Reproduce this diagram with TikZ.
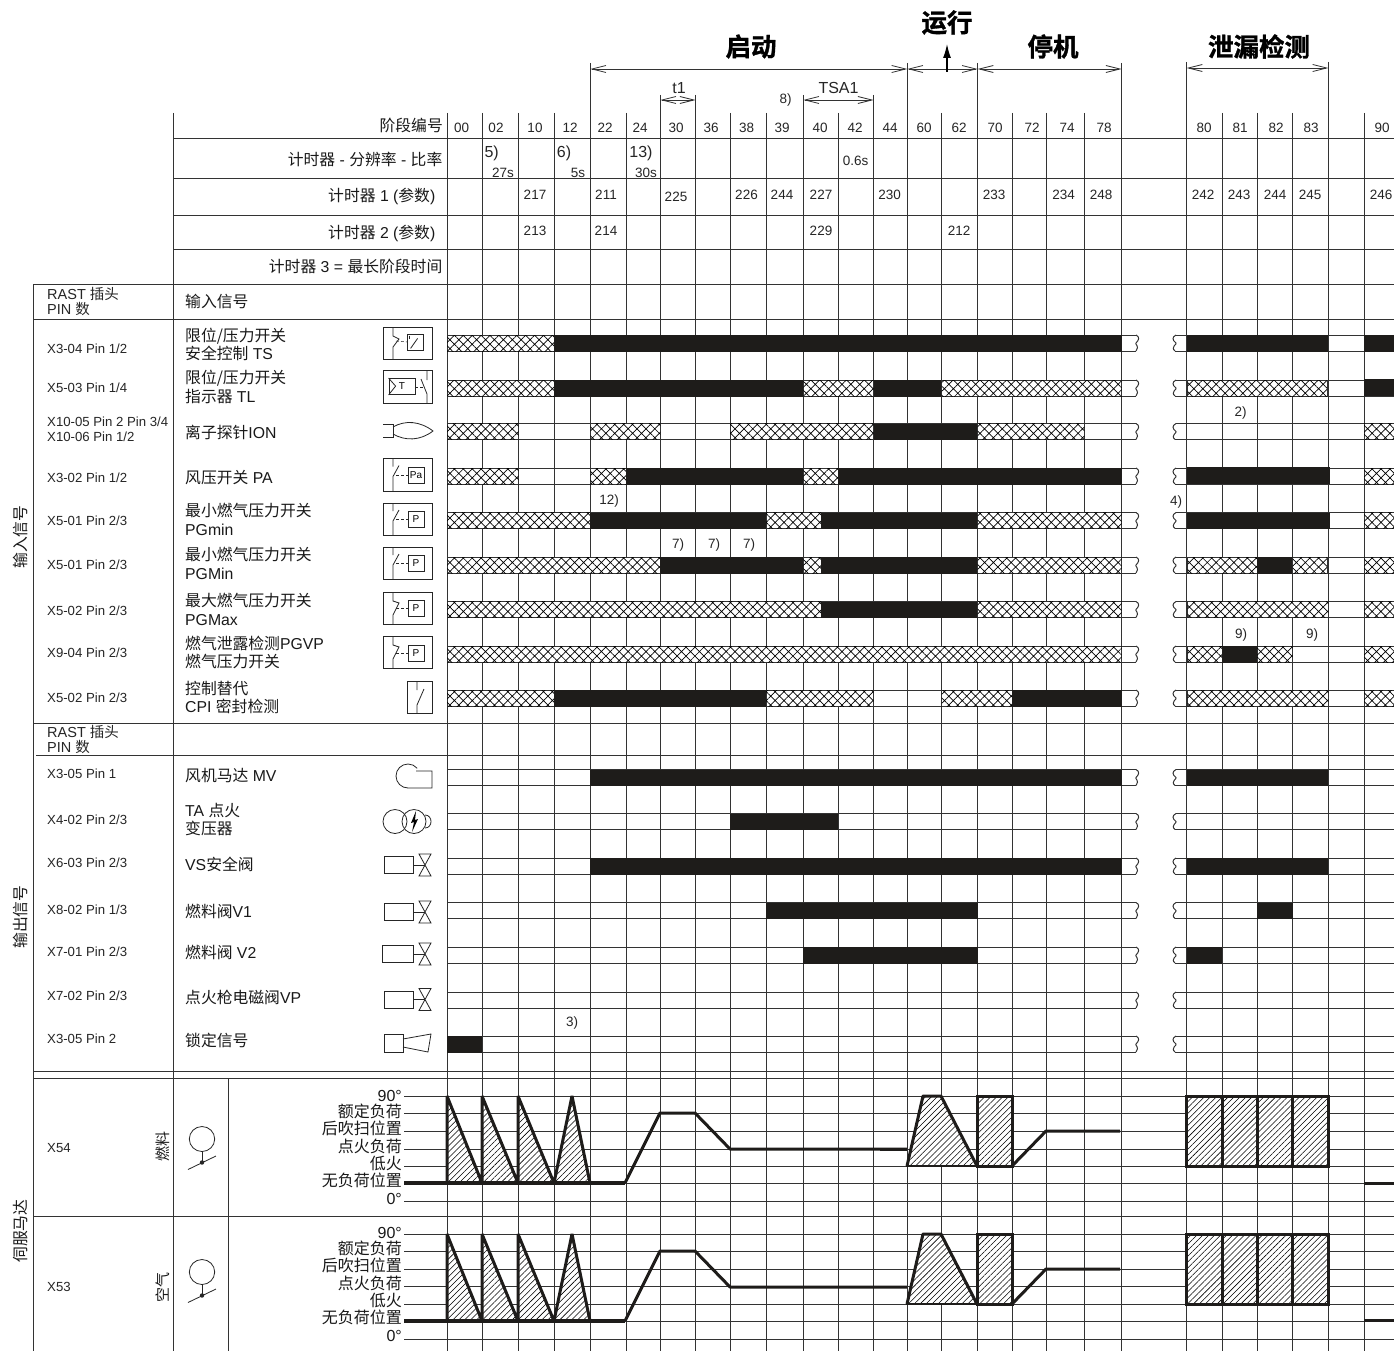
\documentclass[tikz,border=0pt]{standalone}
\usepackage{fontspec}
\setmainfont{Liberation Sans}
\newfontfamily\cjk{Noto Sans CJK SC}[BoldFont={Noto Sans CJK SC Bold},BoldFeatures={FakeBold=1.2}]
\usetikzlibrary{arrows.meta,patterns.meta}
\newcommand{\zh}[1]{{\cjk #1}}
\definecolor{gridc}{gray}{0.2}
\definecolor{barc}{HTML}{1E1C1A}
\tikzset{
  x=1pt,y=-1pt,
  gridline/.style={draw=gridc,line width=1pt},
  strongline/.style={draw=gridc,line width=1.3pt},
  num/.style={inner sep=0pt,font=\fontsize{13.5}{15}\selectfont,text=black!85,text height=11pt,text depth=0pt},
  note/.style={num},
  big/.style={num,font=\fontsize{16}{18}\selectfont,text height=11.5pt},
  xlab/.style={num,anchor=west,font=\fontsize{13.2}{15}\selectfont,text height=11pt},
  rast/.style={xlab,font=\fontsize{14.5}{16}\selectfont,text height=10.4pt},
  siglab/.style={inner sep=0pt,anchor=west,font=\fontsize{15.8}{17}\selectfont,text=black!90,text height=14pt,text depth=1.5pt},
  rlab/.style={siglab,anchor=east},
  srv/.style={rlab,font=\fontsize{16}{18}\selectfont},
  rot/.style={siglab,anchor=center,rotate=90,text height=12.4pt},
  head/.style={inner sep=0pt,font=\fontsize{25.5}{28}\selectfont\bfseries\cjk},
  dimarrow/.style={draw=gridc,line width=.9pt,{Straight Barb[length=14pt,width=7pt,line width=.8pt]}-{Straight Barb[length=14pt,width=7pt,line width=.8pt]}},
  sym/.style={draw=black!85,line width=.8pt},
  symbox/.style={draw=black!85,line width=.8pt,inner sep=0pt,minimum width=16pt,minimum height=16pt,font=\fontsize{10}{11}\selectfont},
  hatchbar/.style={fill=white,postaction={pattern={Hatch[angle=45,distance=6.3pt,line width=.7pt]},pattern color=black},draw=gridc,line width=.7pt},
  blackbar/.style={fill=barc,draw=none},
  thickp/.style={draw=barc,line width=3pt,line join=bevel},
  stripes/.style={fill=white,postaction={pattern={Lines[angle=45,distance=4.2pt,line width=.55pt]},pattern color=black}},
}
\newcommand{\HB}[3]{\path[hatchbar] (#2,#1) rectangle (#3,#1+16);}
\newcommand{\BB}[3]{\path[blackbar] (#2,#1) rectangle (#3,#1+16.5);}
\newcommand{\WaveR}[1]{\draw[gridline] (1136,#1) .. controls (1140,#1+2) and (1139,#1+5) .. (1136,#1+8) .. controls (1134.5,#1+9) and (1140,#1+11) .. (1136,#1+16);}
\newcommand{\WaveL}[1]{\draw[gridline] (1176,#1) .. controls (1172,#1+2) and (1172,#1+5) .. (1176,#1+8) .. controls (1177.5,#1+9) and (1170,#1+12) .. (1175,#1+16);}
\newcommand{\SymNO}[4]{%
  \draw[sym] (383,#2) rectangle (432,#2+32.5);
  \draw[sym] (393,#2) -- (393,#2+8) (393,#2+32.5) -- (393,#2+18) -- (399,#2+7);
  \draw[sym,line width=.5pt,densely dashed] (396,#3) -- (408,#3);
  \node[symbox] (#1) at (416,#3) {#4};}
\newcommand{\SymNC}[4]{%
  \draw[sym] (383,#2) rectangle (432,#2+32.5);
  \draw[sym] (393,#2) -- (393,#2+9) -- (399,#2+11) -- (393,#2+23) -- (393,#2+32.5);
  \draw[sym,line width=.5pt,densely dashed] (396,#3) -- (408,#3);
  \node[symbox] (#1) at (416,#3) {#4};}
\newcommand{\Valve}[2]{%
  \draw[sym] (#1,#2-8.5) rectangle (413,#2+8.5);
  \draw[sym] (413,#2) -- (425,#2);
  \draw[sym] (419,#2-11) -- (431,#2-11) -- (419,#2+11) -- (431,#2+11) -- cycle;}
\newcommand{\ServoSym}[1]{%
  \draw[sym] (202,#1) ellipse[x radius=12.7pt,y radius=12.5pt];
  \draw[sym] (202,#1+12.5) -- (202,#1+24);
  \fill[black!85] (202,#1+23.5) circle[radius=2.2pt];
  \draw[sym] (188,#1+30.5) -- (216,#1+17);}
\newcommand{\Servo}[1]{%
  \path[stripes] (447,#1) -- (482,#1+87) -- (447,#1+87) -- cycle;
  \path[stripes] (482,#1) -- (518,#1+87) -- (482,#1+87) -- cycle;
  \path[stripes] (518,#1) -- (554,#1+87) -- (518,#1+87) -- cycle;
  \path[stripes] (554,#1+87) -- (572,#1) -- (590,#1+87) -- cycle;
  \draw[thickp] (447,#1+87) -- (447,#1) -- (482,#1+87) -- (482,#1) -- (518,#1+87) -- (518,#1) -- (554,#1+87) -- (572,#1) -- (590,#1+87);
  \draw[thickp,line width=3.5pt] (404,#1+87) -- (625,#1+87);
  \draw[thickp,line join=round] (625,#1+87) -- (660,#1+17) -- (695,#1+17) -- (730,#1+53) -- (907,#1+53);
  \path[stripes] (907,#1+70) -- (923,#1) -- (941,#1) -- (977,#1+70) -- cycle;
  \draw[thickp] (907,#1+70) -- (923,#1) -- (941,#1) -- (977,#1+70);
  \draw[draw=barc,line width=1.5pt] (906,#1+70) -- (977,#1+70);
  \path[stripes] (977,#1) rectangle (1012,#1+70);
  \draw[thickp,line join=miter] (977,#1) rectangle (1012,#1+70);
  \draw[thickp] (1012,#1+70) -- (1046,#1+35) -- (1120,#1+35);
  \path[stripes] (1186,#1) rectangle (1328,#1+70);
  \draw[thickp,line join=miter] (1186,#1) rectangle (1328,#1+70) (1222,#1) -- (1222,#1+70) (1257,#1) -- (1257,#1+70) (1292,#1) -- (1292,#1+70);
}
\begin{document}
\begin{tikzpicture}
\useasboundingbox (0,0) rectangle (1394,1351);
\fill[white] (0,0) rectangle (1394,1351);

% ---------- horizontal rules of the table
\foreach \y in {139,178.5,215,249} \draw[gridline] (173,\y) -- (1394,\y);
\foreach \y in {284,319,723,1071} \draw[gridline] (33,\y) -- (1394,\y);
\draw[gridline] (36,755) -- (1394,755);
\draw[strongline] (33,1078.5) -- (1394,1078.5);
\draw[gridline] (33,1216.7) -- (1394,1216.7);

% ---------- signal rows
\foreach \t in {335,380,423.5,468,512.5,557,601.5,646,690,769.5,813.5,858,902.5,947,992,1036}{
  \draw[gridline] (447,\t) -- (1136,\t) (447,\t+16) -- (1136,\t+16);
  \draw[gridline] (1176,\t) -- (1394,\t) (1175,\t+16) -- (1394,\t+16);
  \WaveR{\t}
  \WaveL{\t}
}
% ---------- servo level lines
\foreach \y in {1096,1113.3,1131.3,1149,1166.5,1183,1201.3,1234.2,1251.7,1269,1286.7,1304,1321,1339.3}
  \draw[gridline] (404,\y) -- (1394,\y);

% ---------- vertical rules
\draw[gridline] (33,284) -- (33,1351);
\draw[gridline] (173,113) -- (173,1351);
\draw[gridline] (228,1078.5) -- (228,1351);
\foreach \x in {447,482,518.5,554,626,730,766,838,941.5,1012,1046.3,1084.3,1222,1257,1292.5,1364}
  \draw[gridline] (\x,113) -- (\x,1351);
\foreach \x in {660.3,695.5,803.3,873.5} \draw[gridline] (\x,95) -- (\x,1351);
\foreach \x in {590.3,907.3,977.7,1121.5} \draw[gridline] (\x,63) -- (\x,1351);
\foreach \x in {1186.7,1328.3} \draw[gridline] (\x,62) -- (\x,1351);
\draw[strongline,line width=1.5pt] (803.3,875) -- (803.3,947);

% ---------- bars
\HB{335}{447}{554}\BB{335}{554}{1121.5}\BB{335}{1186.7}{1328.3}\BB{335}{1364}{1394}
\HB{380}{447}{554}\BB{380}{554}{803.3}\HB{380}{803.3}{873.5}\BB{380}{873.5}{941.5}\HB{380}{941.5}{1121.5}\HB{380}{1187.5}{1327}\BB{379}{1364}{1394}
\HB{423.5}{447}{518.5}\HB{423.5}{590.3}{660.3}\HB{423.5}{730}{873.5}\BB{423.5}{873.5}{977.7}\HB{423.5}{977.7}{1084.3}\HB{423.5}{1364}{1394}
\HB{468}{447}{518.5}\HB{468}{590.3}{626}\BB{468}{626}{803.3}\HB{468}{803.3}{838}\BB{468}{838}{1121.5}\BB{467}{1186.7}{1330}\HB{468}{1364}{1394}
\HB{512.5}{447}{590.3}\BB{512.5}{590.3}{766}\HB{512.5}{766}{821}\BB{512.5}{821}{977.7}\HB{512.5}{977.7}{1121.5}\BB{512.5}{1186.7}{1330}\HB{512.5}{1364}{1394}
\HB{557}{447}{660.3}\BB{557}{660.3}{803.3}\HB{557}{803.3}{821}\BB{557}{821}{977.7}\HB{557}{977.7}{1121.5}\HB{557}{1187.5}{1257}\BB{557}{1257}{1292.5}\HB{557}{1292.5}{1327}\HB{557}{1364}{1394}
\HB{601.5}{447}{821}\BB{601.5}{821}{977.7}\HB{601.5}{977.7}{1121.5}\HB{601.5}{1187.5}{1328.3}\HB{601.5}{1364}{1394}
\HB{646}{447}{1121.5}\HB{646}{1187.5}{1222}\BB{646}{1222}{1257}\HB{646}{1257}{1292.5}\HB{646}{1364}{1394}
\HB{690}{447}{554}\BB{690}{554}{766}\HB{690}{766}{873.5}\HB{690}{941.5}{1012}\BB{690}{1012}{1121.5}\HB{690}{1187.5}{1328.3}\HB{690}{1364}{1394}
\BB{769.5}{590.3}{1121.5}\BB{769.5}{1186.7}{1328.3}
\BB{813.5}{730}{838}
\BB{858}{590.3}{1121.5}\BB{858}{1186.7}{1328.3}
\BB{902.5}{766}{977.7}\BB{902.5}{1257}{1292.5}
\BB{947}{803.3}{977.7}\BB{947}{1186.7}{1222}
\BB{1036}{447}{482}

% ---------- servo curves
\Servo{1096}
\Servo{1234}
\draw[thickp] (880,1149) -- (907,1149);
\draw[thickp] (1364,1183) -- (1394,1183);
\draw[thickp] (1364,1320.7) -- (1394,1320.7);

% ---------- phase arrows
\coordinate (a1) at (590.3,69); \coordinate (a2) at (907.3,69);
\coordinate (a3) at (977.7,69); \coordinate (a4) at (1121.5,69);
\coordinate (a5) at (1186.7,68); \coordinate (a6) at (1328.3,68);
\coordinate (t1l) at (660.3,100); \coordinate (t1r) at (695.5,100);
\coordinate (t2l) at (803.3,100); \coordinate (t2r) at (873.5,100);
\coordinate (runb) at (947,72); \coordinate (runt) at (947,44);
\draw[dimarrow] (a1) -- (a2);
\draw[dimarrow] (a2) -- (a3);
\draw[dimarrow] (a3) -- (a4);
\draw[dimarrow] (a5) -- (a6);
\draw[dimarrow] (t1l) -- (t1r);
\draw[dimarrow] (t2l) -- (t2r);
\draw[line width=1.2pt,-{Latex[length=14pt,width=8pt]}] (runb) -- (runt);

% ---------- phase headings
\node[head] (hstart) at (751,46.5) {启动};
\node[head] (hrun) at (947,22.5) {运行};
\node[head] (hstop) at (1053,46.5) {停机};
\node[head] (hleak) at (1259,46.5) {泄漏检测};

% ---------- phase numbers and timers
\foreach \x/\t [count=\i] in {461.7/00,496/02,535/10,570/12,605/22,640/24,676/30,711/36,746.5/38,782/39,820/40,855/42,890/44,924/60,959/62,995/70,1032/72,1067/74,1104/78,1204/80,1240/81,1276/82,1311/83,1382/90}
  \node[num] (ph\i) at (\x,127) {\t};
\foreach \x/\t [count=\i] in {535/217,606/211,746.5/226,782/244,821/227,889.5/230,994/233,1063.5/234,1101/248,1203/242,1239/243,1275/244,1310/245,1381/246}
  \node[num] (ta\i) at (\x,194) {\t};
\node[num] (ta0) at (676,196) {225};
\foreach \x/\t [count=\i] in {535/213,606/214,821/229,959/212}
  \node[num] (tb\i) at (\x,230) {\t};
\node[big] (n5) at (491.7,152) {5)};
\node[num] (s27) at (503,172) {27s};
\node[big] (n6) at (564,152) {6)};
\node[num] (s5) at (578,172) {5s};
\node[big] (n13) at (641,152) {13)};
\node[num] (s30) at (646,172) {30s};
\node[num] (s06) at (855.7,160) {0.6s};
\node[big] (lt1) at (679,88) {t1};
\node[big] (ltsa) at (838.5,88) {TSA1};
\node[note] (n8) at (785.7,98) {8)};
\node[note] (n2) at (1240.5,411) {2)};
\node[note] (n3) at (572,1021) {3)};
\node[note] (n4) at (1176,500) {4)};
\node[note] (n12) at (609,499) {12)};
\node[note] (n7a) at (678,543) {7)};
\node[note] (n7b) at (714,543) {7)};
\node[note] (n7c) at (749,543) {7)};
\node[note] (n9a) at (1241,633) {9)};
\node[note] (n9b) at (1312,633) {9)};

% ---------- header labels
\node[rlab] (h1) at (443,125) {\zh{阶段编号}};
\node[rlab] (h2) at (442.5,159) {\zh{计时器} - \zh{分辨率} - \zh{比率}};
\node[rlab] (h3) at (435.5,195) {\zh{计时器} 1 (\zh{参数})};
\node[rlab] (h4) at (435.5,232) {\zh{计时器} 2 (\zh{参数})};
\node[rlab] (h5) at (442.5,266) {\zh{计时器} 3 = \zh{最长阶段时间}};
\node[siglab] (inlab) at (185,301) {\zh{输入信号}};

% ---------- connector (X) labels
\foreach \y/\t [count=\i] in {348/{X3-04 Pin 1/2},387/{X5-03 Pin 1/4},421/{X10-05 Pin 2 Pin 3/4},436/{X10-06 Pin 1/2},477/{X3-02 Pin 1/2},520/{X5-01 Pin 2/3},564/{X5-01 Pin 2/3},610/{X5-02 Pin 2/3},652/{X9-04 Pin 2/3},697/{X5-02 Pin 2/3},773/{X3-05 Pin 1},819/{X4-02 Pin 2/3},862/{X6-03 Pin 2/3},909/{X8-02 Pin 1/3},951/{X7-01 Pin 2/3},995/{X7-02 Pin 2/3},1038/{X3-05 Pin 2},1147/{X54},1286/{X53}}
  \node[xlab] (x\i) at (47,\y) {\t};
\node[rast] (r1) at (47,294) {RAST \zh{插头}};
\node[rast] (r2) at (47,309) {PIN \zh{数}};
\node[rast] (r3) at (47,732) {RAST \zh{插头}};
\node[rast] (r4) at (47,747) {PIN \zh{数}};

% ---------- signal labels
\node[siglab] (l1) at (185,335) {\zh{限位/压力开关}};
\node[siglab] (l2) at (185,353) {\zh{安全控制} TS};
\node[siglab] (l3) at (185,377) {\zh{限位/压力开关}};
\node[siglab] (l4) at (185,396) {\zh{指示器} TL};
\node[siglab] (l5) at (185,432) {\zh{离子探针}ION};
\node[siglab] (l6) at (185,477) {\zh{风压开关} PA};
\node[siglab] (l7) at (185,510) {\zh{最小燃气压力开关}};
\node[siglab] (l8) at (185,529) {PGmin};
\node[siglab] (l9) at (185,554) {\zh{最小燃气压力开关}};
\node[siglab] (l10) at (185,573) {PGMin};
\node[siglab] (l11) at (185,600) {\zh{最大燃气压力开关}};
\node[siglab] (l12) at (185,619) {PGMax};
\node[siglab] (l13) at (185,643) {\zh{燃气泄露检测}PGVP};
\node[siglab] (l14) at (185,661) {\zh{燃气压力开关}};
\node[siglab] (l15) at (185,688) {\zh{控制替代}};
\node[siglab] (l16) at (185,706) {CPI \zh{密封检测}};
\node[siglab] (l17) at (185,775) {\zh{风机马达} MV};
\node[siglab] (l18) at (185,810) {TA \zh{点火}};
\node[siglab] (l19) at (185,828) {\zh{变压器}};
\node[siglab] (l20) at (185,864) {VS\zh{安全阀}};
\node[siglab] (l21) at (185,911) {\zh{燃料阀}V1};
\node[siglab] (l22) at (185,952) {\zh{燃料阀} V2};
\node[siglab] (l23) at (185,997) {\zh{点火枪电磁阀}VP};
\node[siglab] (l24) at (185,1040) {\zh{锁定信号}};

% ---------- rotated labels
\node[rot] (v1) at (21,537) {\zh{输入信号}};
\node[rot] (v2) at (21,917) {\zh{输出信号}};
\node[rot] (v3) at (21,1231) {\zh{伺服马达}};
\node[rot,font=\fontsize{15}{16}\selectfont] (v4) at (163,1146) {\zh{燃料}};
\node[rot,font=\fontsize{15}{16}\selectfont] (v5) at (163,1287) {\zh{空气}};

% ---------- servo scale labels
\foreach \o/\s in {0/a,137/b}{
  \node[srv] (d\s1) at (402,1095+\o) {90°};
  \node[srv] (d\s2) at (402,1111+\o) {\zh{额定负荷}};
  \node[srv] (d\s3) at (402,1128+\o) {\zh{后吹扫位置}};
  \node[srv] (d\s4) at (402,1146+\o) {\zh{点火负荷}};
  \node[srv] (d\s5) at (402,1163+\o) {\zh{低火}};
  \node[srv] (d\s6) at (402,1180+\o) {\zh{无负荷位置}};
  \node[srv] (d\s7) at (402,1198+\o) {0°};
}

% ---------- symbols: limit switch TS
\draw[sym] (383,327) rectangle (432,359);
\draw[sym] (393,327) -- (393,336) -- (399,339) -- (393,347) -- (393,359);
\draw[sym,line width=.5pt,densely dashed] (396,341) -- (407,342);
\node[symbox] (sTS) at (415,342) {};
\draw[sym] (sTS.south west) ++(4,-2) -- ++(7,-10);
\draw[sym] (sTS.north west) ++(3,2) -- ++(0,3);
% TL
\draw[sym] (383,370) rectangle (432,403);
\node[symbox,minimum width=26pt,minimum height=16pt] (sTL) at (402,386.5) {T};
\draw[sym] (sTL.north west) -- ++(7,8) -- (sTL.south west);
\draw[sym] (427,370) -- (427,380) (427,403) -- (427,394) -- (421,379);
\draw[sym,line width=.5pt,densely dashed] (415,387) -- (424,387);
% ION
\draw[sym] (383,424) -- (393,424) -- (393,437) -- (383,437);
\draw[sym] (393,427) .. controls (405,420) and (420,421) .. (433,431) .. controls (420,441) and (405,441) .. (393,434);
% pressure switches
\SymNO{sPa}{458.5}{475.5}{Pa}
\SymNO{sP1}{503}{519}{P}
\SymNO{sP2}{547}{563.5}{P}
\SymNC{sP3}{592}{608.5}{P}
\SymNC{sP4}{636}{653}{P}
% CPI
\draw[sym] (407,681) rectangle (432,713);
\draw[sym] (417,681) -- (417,690) (424,689) -- (417,705) -- (417,713);
% fan motor
\draw[sym] (416,771) -- (432,771) -- (432,788) -- (408,788) arc[start angle=270,end angle=40,radius=12pt];
% ignition transformer
\draw[sym] (395,821.5) circle[radius=12pt];
\draw[sym] (414,821.5) circle[radius=12pt];
\draw[sym] (425,815) .. controls (433,815) and (433,828) .. (425,828);
\fill[black] (416,811) -- (411,823) -- (414,822) -- (412,832) -- (418,819) -- (415,820) -- cycle;
% valves
\Valve{384}{865}
\Valve{384}{912}
\Valve{382}{954}
\Valve{384}{999.5}
% alarm
\draw[sym] (384,1034) rectangle (403,1052);
\draw[sym] (403,1039) -- (431,1034) -- (428,1052) -- (403,1047);
% servo symbols
\ServoSym{1139}
\ServoSym{1272}
\end{tikzpicture}
\end{document}
